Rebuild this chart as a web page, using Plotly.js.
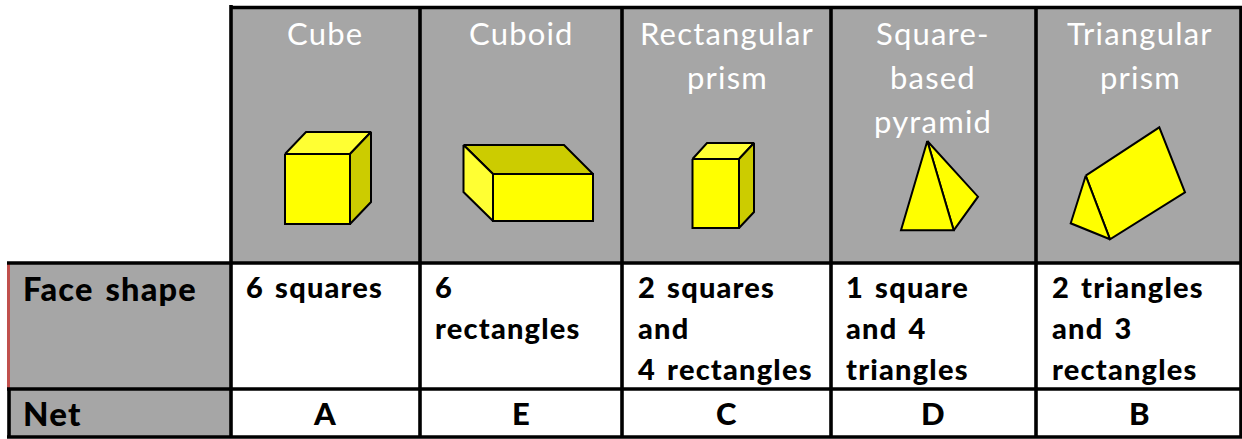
<!DOCTYPE html>
<html>
<head>
<meta charset="utf-8">
<script src="https://cdn.plot.ly/plotly-3.0.1.min.js"></script>
<style>
html, body { margin: 0; padding: 0; background: #fff; }
#plot { width: 1242px; height: 439px; }
.annotation-text { letter-spacing: 1.2px; word-spacing: 3px; }
</style>
</head>
<body>
<div id="plot"></div>
<script>
// table text
var headers = [["Cube"], ["Cuboid"], ["Rectangular", "prism"], ["Square-", "based", "pyramid"], ["Triangular", "prism"]];
var faceShapes = [["6 squares"], ["6", "rectangles"], ["2 squares", "and", "4 rectangles"], ["1 square", "and 4", "triangles"], ["2 triangles", "and 3", "rectangles"]];
var nets = ["A", "E", "C", "D", "B"];
var rowLabels = ["Face shape", "Net"];

// grid lines, in picture units
var colEdges = [231, 420, 622, 831, 1036, 1241];
var rowEdges = [7.5, 263, 389, 437];
var tableLeft = 8;

// solids: x and y of every face, [x list, y list, fill]
var front = "#ffff00", light = "#ffff33", dark = "#cccc00";
var solids = [
  // cube
  [[285, 306, 371, 350], [154, 132, 132, 154], light],
  [[350, 371, 371, 350], [154, 132, 202, 224], dark],
  [[285, 350, 350, 285], [154, 154, 224, 224], front],
  // cuboid
  [[463.5, 564, 593, 493], [145, 145, 174, 174], dark],
  [[463.5, 493, 493, 463.5], [145, 174, 221, 192], light],
  [[493, 593, 593, 493], [174, 174, 221, 221], front],
  // rectangular prism
  [[692.5, 707, 754, 739], [159, 143, 143, 159], light],
  [[739, 754, 754, 739], [159, 143, 212, 228], dark],
  [[692.5, 739, 739, 692.5], [159, 159, 228, 228], front],
  // pyramid
  [[927.3, 978, 953.7], [141, 196.7, 230.3], front],
  [[927.3, 953.7, 901], [141, 230.3, 230.3], front],
  // triangular prism
  [[1085.7, 1159.3, 1185, 1110], [175.7, 127.3, 192.3, 239.3], front],
  [[1085.7, 1110, 1070.7], [175.7, 239.3, 223.3], front]
];

var gray = "#a6a6a6";
var data = [];

function box(x0, x1, y0, y1, color) {
  data.push({
    x: [x0, x1, x1, x0, x0], y: [y0, y0, y1, y1, y0],
    mode: "lines", fill: "toself", fillcolor: color,
    line: { width: 0 }, hoverinfo: "skip"
  });
}

function gridLine(x, y) {
  data.push({ x: x, y: y, mode: "lines", line: { color: "#000", width: 3.6 }, hoverinfo: "skip" });
}

// gray cells
box(colEdges[0], colEdges[5], rowEdges[0], rowEdges[1], gray);
box(tableLeft, colEdges[0], rowEdges[1], rowEdges[3], gray);

// reddish edge on the face shape row
box(7, 10, rowEdges[1], rowEdges[2], "#c0504d");

rowEdges.forEach(function (y, i) {
  gridLine([i === 0 ? colEdges[0] : 7, colEdges[5] + 1], [y, y]);
});
colEdges.forEach(function (x, i) {
  gridLine([x, x], [i === 0 ? 5 : rowEdges[0], rowEdges[3]]);
});
gridLine([tableLeft + 1, tableLeft + 1], [rowEdges[2], rowEdges[3]]);

solids.forEach(function (s) {
  data.push({
    x: s[0].concat(s[0][0]), y: s[1].concat(s[1][0]),
    mode: "lines", fill: "toself", fillcolor: s[2],
    line: { color: "#000", width: 2 }, hoverinfo: "skip"
  });
});

var fontName = "Lato, 'Open Sans', sans-serif";
var annotations = [];

function label(text, x, y, anchor, size, color, weight) {
  annotations.push({
    text: text, x: x, y: y, xref: "x", yref: "y",
    xanchor: anchor, yanchor: "middle", showarrow: false,
    font: { family: fontName, size: size, color: color, weight: weight }
  });
}

var headerCenters = [325, 521, 727, 933, 1140];
var cellLefts = [244, 433, 636, 844, 1050];

headers.forEach(function (lines, c) {
  lines.forEach(function (t, i) {
    label(t, headerCenters[c], 33 + i * 44, "center", 31, "#ffffff", 400);
  });
});
faceShapes.forEach(function (lines, c) {
  lines.forEach(function (t, i) {
    label(t, cellLefts[c], 286 + i * 41, "left", 29, "#000000", 900);
  });
});
nets.forEach(function (t, c) {
  label(t, headerCenters[c], 413, "center", 31, "#000000", 900);
});
label(rowLabels[0], 21, 288, "left", 32.5, "#000000", 900);
label(rowLabels[1], 21, 413, "left", 33, "#000000", 900);

var layout = {
  width: 1242,
  height: 439,
  margin: { l: 0, r: 0, t: 0, b: 0 },
  showlegend: false,
  hovermode: false,
  paper_bgcolor: "#fff",
  plot_bgcolor: "#fff",
  xaxis: { range: [0, 1242], visible: false, fixedrange: true },
  yaxis: { range: [439, 0], visible: false, fixedrange: true },
  annotations: annotations
};

Plotly.newPlot("plot", data, layout, { displayModeBar: false, staticPlot: true });
</script>
</body>
</html>
